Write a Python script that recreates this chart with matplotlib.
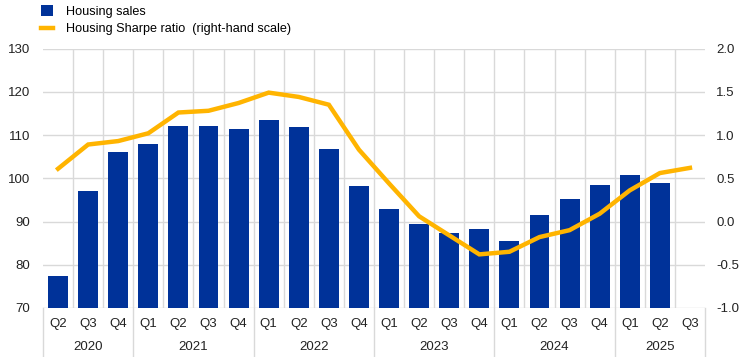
import matplotlib.pyplot as plt
import matplotlib.transforms as mtransforms
from matplotlib.lines import Line2D

plt.rcParams['font.family'] = ['Liberation Sans', 'DejaVu Sans']

# --- DATA ---
quarters = ["Q2", "Q3", "Q4",
            "Q1", "Q2", "Q3", "Q4",
            "Q1", "Q2", "Q3", "Q4",
            "Q1", "Q2", "Q3", "Q4",
            "Q1", "Q2", "Q3", "Q4",
            "Q1", "Q2", "Q3"]
years = ["2020", "2021", "2022", "2023", "2024", "2025"]
quarters_per_year = [3, 4, 4, 4, 4, 3]

housing_sales = [77.4, 97.0, 106.0,
                 108.0, 112.0, 112.1, 111.3,
                 113.5, 111.8, 106.8, 98.1,
                 92.9, 89.4, 87.4, 88.2,
                 85.6, 91.5, 95.3, 98.5,
                 100.8, 98.9, None]
sharpe_ratio = [0.61, 0.89, 0.93,
                1.02, 1.26, 1.28, 1.37,
                1.49, 1.44, 1.35, 0.83,
                0.44, 0.06, -0.16,  -0.38,
                -0.35, -0.18, -0.10, 0.09,
                0.36, 0.56, 0.62]

BLUE = "#003299"
YELLOW = "#FFB400"
GRID = "#d9d9d9"

fig = plt.figure(figsize=(7.44, 3.57), dpi=100)
ax = fig.add_axes([43 / 744, 1 - 308 / 357, 662 / 744, 259.5 / 357])
ax2 = ax.twinx()

x = list(range(len(quarters)))
bar_x = [i for i, v in zip(x, housing_sales) if v is not None]
bar_v = [v for v in housing_sales if v is not None]
bars = ax.bar(bar_x, [v - 70 for v in bar_v], bottom=70, width=0.66, color=BLUE,
              zorder=3, label="Housing sales")
line, = ax2.plot(x, sharpe_ratio, color=YELLOW, lw=3.2, solid_joinstyle="miter",
                 label="Housing Sharpe ratio  (right-hand scale)", zorder=4)

ax.set_xlim(-0.5, len(quarters) - 0.5)
ax.set_ylim(70, 130)
ax.set_yticks(range(70, 131, 10))
ax2.set_ylim(-1.0, 2.0)
ax2.set_yticks([-1.0, -0.5, 0.0, 0.5, 1.0, 1.5, 2.0])
ax2.set_yticklabels([f"{t:.1f}" for t in ax2.get_yticks()])

ax.set_xticks(x)
ax.set_xticklabels(quarters)
ax.set_xticks([i - 0.5 for i in range(1, len(quarters))], minor=True)
ax.grid(True, which="minor", axis="x", color=GRID, lw=1, zorder=0)
ax.grid(True, which="major", axis="y", color=GRID, lw=1, zorder=0)

for a in (ax, ax2):
    for s in a.spines.values():
        s.set_visible(False)
    a.tick_params(which="both", length=0, labelsize=9.5, colors="#222222")
ax.tick_params(axis="y", pad=9)
ax2.tick_params(axis="y", pad=8)
ax.tick_params(axis="x", pad=7)

# year labels and separators under the axis
trans = mtransforms.blended_transform_factory(ax.transData, ax.transAxes)
start = -0.5
sep_positions = [start]
for yr, n in zip(years, quarters_per_year):
    ax.text(start + n / 2, -0.152, yr, transform=trans, ha="center", va="center",
            fontsize=9.5, color="#222222")
    start += n
    sep_positions.append(start)
for p in sep_positions:
    ax.add_line(Line2D([p, p], [0, -0.2], transform=trans, color=GRID, lw=1,
                       clip_on=False))

fig.legend(handles=[bars, line], loc="upper left", bbox_to_anchor=(36 / 744, 1.0),
           frameon=False, fontsize=9.1, handlelength=0.95, handleheight=0.95,
           handletextpad=1.0, labelspacing=0.38, borderaxespad=0)

fig.savefig("out.png", dpi=100)
